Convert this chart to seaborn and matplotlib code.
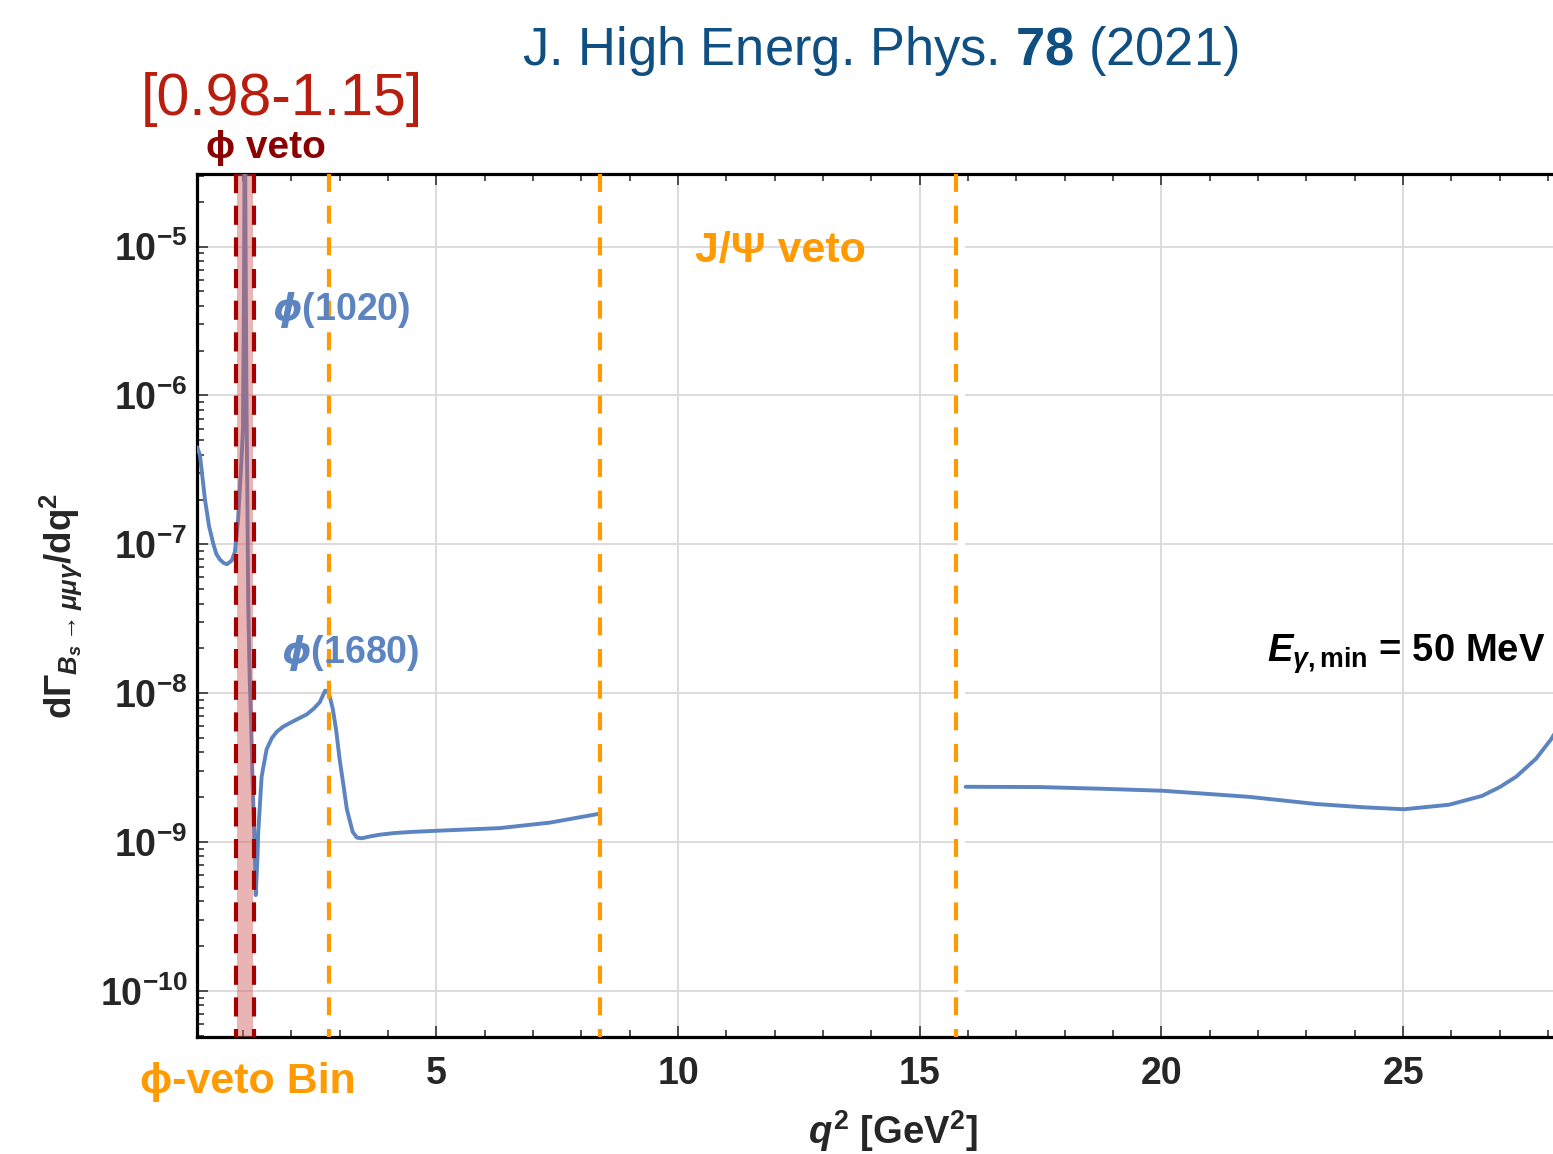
import numpy as np
import pandas as pd
import matplotlib
matplotlib.use("Agg")
import matplotlib.pyplot as plt
import seaborn as sns
from matplotlib.ticker import FixedLocator, LogLocator, NullFormatter, FuncFormatter

# ---------------- data ----------------
# low-q2 branch (below the J/psi veto)
q2_low = [0.05, 0.11, 0.215, 0.30, 0.38, 0.45, 0.525, 0.60, 0.67, 0.77, 0.835, 0.90,
          0.96, 1.00, 1.02, 1.03, 1.04, 1.05, 1.065, 1.077, 1.095, 1.11, 1.14, 1.17,
          1.20, 1.24, 1.265, 1.30, 1.317, 1.387, 1.49, 1.60, 1.70, 1.83, 1.97, 2.15,
          2.32, 2.47, 2.59, 2.65, 2.70, 2.75, 2.80, 2.86, 2.93, 3.00, 3.08, 3.15, 3.27,
          3.36, 3.46, 3.63, 3.83, 4.15, 4.51, 5.01, 6.31, 7.35, 8.38]
rate_low = [4.5e-7, 4.0e-7, 2.0e-7, 1.32e-7, 1.03e-7, 8.6e-8, 7.9e-8, 7.5e-8, 7.35e-8,
            7.8e-8, 8.9e-8, 1.48e-7, 3.2e-7, 5.9e-7, 4.0e-6, 2.0e-5, 3.0e-4, 2.0e-5,
            2.5e-6, 6.9e-7, 1.5e-7, 4.0e-8, 1.26e-8, 6.3e-9, 2.5e-9, 1.0e-9, 4.4e-10,
            7.8e-10, 1.17e-9, 2.75e-9, 4.2e-9, 5.0e-9, 5.5e-9, 5.95e-9, 6.3e-9, 6.75e-9,
            7.2e-9, 7.9e-9, 8.7e-9, 9.6e-9, 1.04e-8, 1.03e-8, 9.4e-9, 7.8e-9, 5.6e-9,
            3.6e-9, 2.4e-9, 1.66e-9, 1.17e-9, 1.07e-9, 1.06e-9, 1.09e-9, 1.12e-9,
            1.15e-9, 1.17e-9, 1.19e-9, 1.24e-9, 1.35e-9, 1.55e-9]
# high-q2 branch (above the psi(2S) veto)
q2_high = [15.95, 17.48, 18.75, 20.02, 21.0, 21.82, 23.20, 24.2, 25.02, 25.95, 26.63,
           27.0, 27.34, 27.75, 28.06, 28.2]
rate_high = [2.35e-9, 2.34e-9, 2.28e-9, 2.21e-9, 2.10e-9, 2.01e-9, 1.80e-9, 1.71e-9,
             1.66e-9, 1.78e-9, 2.04e-9, 2.34e-9, 2.75e-9, 3.63e-9, 4.9e-9, 5.8e-9]

phi_veto_lines = [0.85, 1.22]          # dark-red dashed lines
phi_veto_band = [0.88, 1.20]           # shaded bin
orange_lines = [2.79, 8.38, 15.75]     # orange dashed lines
x_major = [5, 10, 15, 20, 25]
x_limits = [0.05, 28.1]
y_limits = [10 ** -10.31, 10 ** -4.512]

# ---------------- style ----------------
sns.set_style("ticks")
plt.rcParams["font.family"] = ["Liberation Sans", "DejaVu Sans"]
plt.rcParams["mathtext.fontset"] = "custom"
plt.rcParams["mathtext.rm"] = "Liberation Sans"
plt.rcParams["mathtext.bf"] = "Liberation Sans:bold"
plt.rcParams["mathtext.it"] = "Liberation Sans:italic:bold"
plt.rcParams["mathtext.sf"] = "DejaVu Sans:italic:bold"
plt.rcParams["mathtext.default"] = "bf"

BLUE = "#5b84c1"
ORANGE = "#ff9a00"
DARKRED = "#a30000"
W, H = 1553, 1154

fig = plt.figure(figsize=(W / 100, H / 100), dpi=100)
ax = fig.add_axes([197 / W, 1 - 1037 / H, 1356 / W, 863 / H])

df_low = pd.DataFrame({"q2": q2_low, "rate": rate_low})
df_high = pd.DataFrame({"q2": q2_high, "rate": rate_high})
sns.lineplot(data=df_low, x="q2", y="rate", ax=ax, color=BLUE, linewidth=2.8, zorder=3)
sns.lineplot(data=df_high, x="q2", y="rate", ax=ax, color=BLUE, linewidth=2.8, zorder=3)

ax.set_yscale("log")
ax.set_xlim(*x_limits)
ax.set_ylim(*y_limits)

# grid
ax.set_axisbelow(True)
ax.grid(True, which="major", color="#d9d9d9", lw=1.3)
ax.axvspan(15.8, 15.93, color="white", lw=0, zorder=1)

# veto band and lines
ax.axvspan(phi_veto_band[0], phi_veto_band[1], color="#d05a5a", alpha=0.45, lw=0, zorder=3.5)
xt = ax.get_xaxis_transform()
for q in phi_veto_lines:
    ax.plot([q, q], [1, 0], transform=xt, color=DARKRED, lw=3.0, dashes=(4.6, 3.0), zorder=4)
for q in orange_lines:
    ax.plot([q, q], [1, 0], transform=xt, color=ORANGE, lw=3.0, dashes=(4.3, 3.3), zorder=4)

# ticks
ax.xaxis.set_major_locator(FixedLocator(x_major))
ax.xaxis.set_minor_locator(FixedLocator(np.arange(1, 29, 1)))
ax.yaxis.set_major_locator(LogLocator(base=10, numticks=20))
ax.yaxis.set_minor_locator(LogLocator(base=10, subs=np.arange(2, 10), numticks=100))
ax.yaxis.set_minor_formatter(NullFormatter())
ax.yaxis.set_major_formatter(FuncFormatter(lambda v, p: r"$\mathbf{10^{%d}}$" % int(round(np.log10(v)))))
ax.tick_params(axis="both", which="both", direction="in", color="#333333", width=1.2)
ax.tick_params(axis="x", which="both", top=True, bottom=True)
ax.tick_params(axis="both", which="major", length=8, labelsize=27)
ax.tick_params(axis="both", which="minor", length=5)
ax.tick_params(axis="x", which="major", pad=14)
ax.tick_params(axis="y", which="major", pad=7)
for lab in ax.get_xticklabels():
    lab.set_fontweight("bold")

for s in ["left", "bottom", "top"]:
    ax.spines[s].set_linewidth(2.3)
    ax.spines[s].set_color("black")
ax.spines["right"].set_visible(False)

ax.set_xlabel(r"$\mathit{q}^{2}$ [GeV$^{2}$]", fontsize=27.5, fontweight="bold")
ax.xaxis.set_label_coords((893 - 197) / 1356, -0.083)
ax.set_ylabel(r"$\mathbf{d\Gamma}_{\mathit{B_s\rightarrow\mu\mu\gamma}}\mathbf{/dq^2}$", fontsize=26.5)
ax.yaxis.set_label_coords(-0.083, 0.5)


def txt(x, y, s, **kw):
    kw.setdefault("ha", "center")
    kw.setdefault("va", "baseline")
    fig.text(x / W, 1 - y / H, s, **kw)


txt(880, 65, r"J. High Energ. Phys. $\mathbf{78}$ (2021)", color="#0f4f82", fontsize=37.8)
txt(282, 115, "[0.98-1.15]", color="#b81d0d", fontsize=42.5)
txt(266, 158, "ϕ veto", color="#8b0000", fontsize=28, fontweight="bold")
txt(780, 262, "J/Ψ veto", color=ORANGE, fontsize=31, fontweight="bold")
txt(341, 320, r"$\mathsf{\phi}$(1020)", color=BLUE, fontsize=27, fontweight="bold")
txt(350, 663, r"$\mathsf{\phi}$(1680)", color=BLUE, fontsize=27, fontweight="bold")
txt(1545, 662, r"$\mathit{E}_{\mathit{\gamma},\mathbf{min}}$ = 50 MeV", color="black",
    fontsize=27.5, fontweight="bold", ha="right")
txt(248, 1093, "ϕ-veto Bin", color=ORANGE, fontsize=31, fontweight="bold")

fig.savefig("out.png", dpi=100)
